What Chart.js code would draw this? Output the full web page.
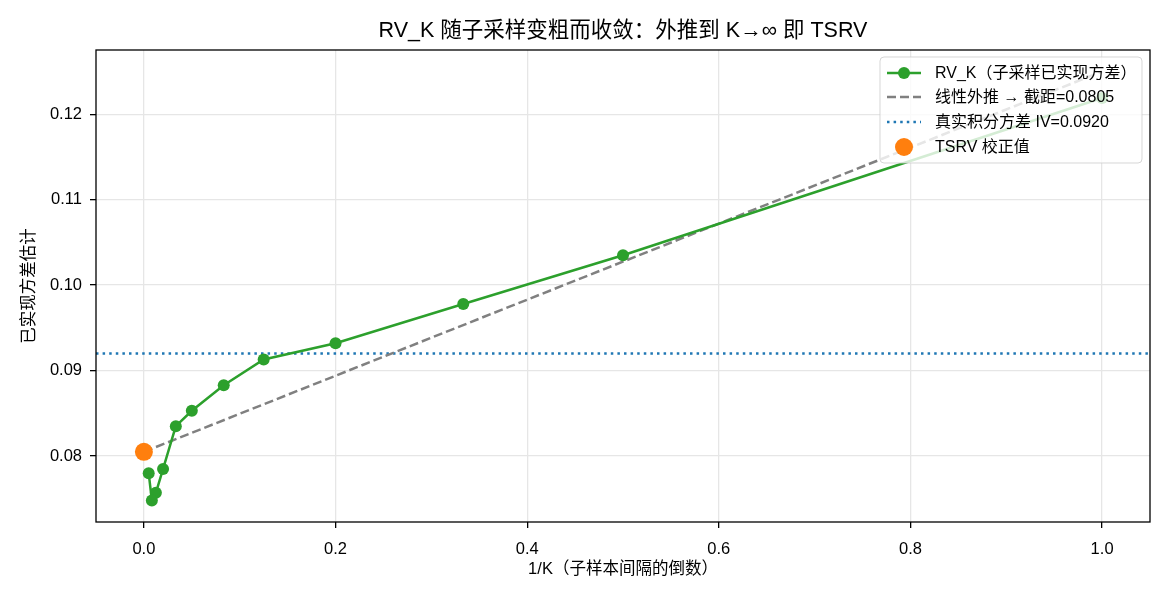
<!DOCTYPE html>
<html>
<head>
<meta charset="utf-8">
<script src="https://cdn.jsdelivr.net/npm/chart.js@4.4.1/dist/chart.umd.min.js"></script>
<style>
  body { margin: 0; background: #fff; }
  #wrap { width: 1170px; height: 598px; }
</style>
</head>
<body>
<div id="wrap"><canvas id="grafiek"></canvas></div>
<script>
// data
const invK = [1.0, 0.5, 0.3333, 0.2, 0.125, 0.0833, 0.05, 0.0333, 0.02, 0.0125, 0.0083, 0.005];
const rvK = [0.1219, 0.1035, 0.0978, 0.0932, 0.0913, 0.0883, 0.0853, 0.0835, 0.0785, 0.0757, 0.0748, 0.0780];
const fitX = [0, 1];
const fitY = [0.0805, 0.1250];
const ivValue = 0.0920;
const tsrvX = [0];
const tsrvY = [0.0805];

const xRange = [-0.05, 1.05];
const yRange = [0.07229, 0.12751];
const xTicks = [0.0, 0.2, 0.4, 0.6, 0.8, 1.0];
const yTicks = [0.08, 0.09, 0.10, 0.11, 0.12];

const titel = 'RV_K 随子采样变粗而收敛：外推到 K→∞ 即 TSRV';

const FONT = "'Liberation Sans', 'Noto Sans CJK SC', sans-serif";
const GROEN = '#2ca02c';
const ORANJE = '#ff7f0e';
const BLAUW = '#1f77b4';
const GRIJS = '#808080';

const legendItems = [
  { label: 'RV_K（子采样已实现方差）', type: 'linemarker', color: GROEN },
  { label: '线性外推 → 截距=0.0805', type: 'dashed', color: GRIJS },
  { label: '真实积分方差 IV=0.0920', type: 'dotted', color: BLAUW },
  { label: 'TSRV 校正值', type: 'marker', color: ORANJE }
];

// title, frame (spines) and legend box drawn on top
const kaderEnLegenda = {
  id: 'kaderEnLegenda',
  afterDraw(chart) {
    const ctx = chart.ctx;
    const a = chart.chartArea;
    ctx.save();

    ctx.fillStyle = '#000';
    ctx.font = '21.5px ' + FONT;
    ctx.textAlign = 'center';
    ctx.textBaseline = 'middle';
    ctx.fillText(titel, (a.left + a.right) / 2, 31);

    ctx.strokeStyle = '#000';
    ctx.lineWidth = 1.3;
    ctx.strokeRect(a.left, a.top, a.right - a.left, a.bottom - a.top);

    // legend
    const bx = 880, by = 57, bw = 262, bh = 106, r = 4;
    ctx.beginPath();
    ctx.roundRect(bx, by, bw, bh, r);
    ctx.fillStyle = 'rgba(255,255,255,0.8)';
    ctx.fill();
    ctx.strokeStyle = 'rgba(204,204,204,0.8)';
    ctx.lineWidth = 1;
    ctx.stroke();

    const rows = [73, 97, 122, 147];
    ctx.font = '16px ' + FONT;
    ctx.textBaseline = 'middle';
    ctx.textAlign = 'left';
    legendItems.forEach((it, i) => {
      const y = rows[i];
      const x0 = 887, x1 = 921, xm = 904;
      ctx.strokeStyle = it.color;
      ctx.fillStyle = it.color;
      ctx.lineWidth = 2.5;
      if (it.type !== 'marker') {
        ctx.beginPath();
        if (it.type === 'dashed') ctx.setLineDash([9, 4]);
        if (it.type === 'dotted') ctx.setLineDash([2.5, 4.1]);
        ctx.moveTo(x0, y);
        ctx.lineTo(x1, y);
        ctx.stroke();
        ctx.setLineDash([]);
      }
      if (it.type === 'linemarker') {
        ctx.beginPath();
        ctx.arc(xm, y, 6, 0, Math.PI * 2);
        ctx.fill();
      }
      if (it.type === 'marker') {
        ctx.beginPath();
        ctx.arc(xm, y, 9, 0, Math.PI * 2);
        ctx.fill();
      }
      ctx.fillStyle = '#000';
      ctx.fillText(it.label, 935, y + 1);
    });
    ctx.restore();
  }
};

const ctx = document.getElementById('grafiek').getContext('2d');

new Chart(ctx, {
  type: 'scatter',
  data: {
    datasets: [
      {
        label: 'TSRV 校正值',
        data: tsrvX.map((x, i) => ({ x: x, y: tsrvY[i] })),
        backgroundColor: ORANJE,
        borderWidth: 0,
        pointRadius: 9,
        pointHoverRadius: 9
      },
      {
        label: 'RV_K（子采样已实现方差）',
        data: invK.map((x, i) => ({ x: x, y: rvK[i] })),
        showLine: true,
        borderColor: GROEN,
        backgroundColor: GROEN,
        borderWidth: 2.5,
        pointRadius: 6,
        pointHoverRadius: 6,
        pointBorderWidth: 0
      },
      {
        label: '线性外推',
        data: fitX.map((x, i) => ({ x: x, y: fitY[i] })),
        showLine: true,
        borderColor: GRIJS,
        borderWidth: 2.5,
        borderDash: [9, 4],
        pointRadius: 0
      },
      {
        label: '真实积分方差',
        data: xRange.map(x => ({ x: x, y: ivValue })),
        showLine: true,
        borderColor: BLAUW,
        borderWidth: 2.5,
        borderDash: [2.5, 4.1],
        pointRadius: 0
      }
    ]
  },
  options: {
    responsive: true,
    maintainAspectRatio: false,
    animation: false,
    devicePixelRatio: 1,
    layout: { padding: { left: 0, right: 20, top: 50, bottom: 0 } },
    plugins: {
      legend: { display: false },
      tooltip: { enabled: false },
      title: { display: false }
    },
    scales: {
      x: {
        type: 'linear',
        min: xRange[0],
        max: xRange[1],
        afterBuildTicks: axis => { axis.ticks = xTicks.map(v => ({ value: v })); },
        afterFit: axis => { axis.height = 76; },
        ticks: {
          color: '#000',
          font: { family: FONT, size: 16.5 },
          padding: 12,
          maxRotation: 0,
          callback: v => Number(v).toFixed(1)
        },
        grid: { color: '#e6e6e6', lineWidth: 1.3, tickColor: '#000', tickLength: 6, tickWidth: 1.3 },
        border: { display: false },
        title: {
          display: true,
          text: '1/K（子样本间隔的倒数）',
          color: '#000',
          font: { family: FONT, size: 16.5 },
          padding: { top: 0, bottom: 19 }
        }
      },
      y: {
        type: 'linear',
        min: yRange[0],
        max: yRange[1],
        afterBuildTicks: axis => { axis.ticks = yTicks.map(v => ({ value: v })); },
        afterFit: axis => { axis.width = 96; },
        ticks: {
          color: '#000',
          font: { family: FONT, size: 16.5 },
          padding: 8,
          callback: v => Number(v).toFixed(2)
        },
        grid: { color: '#e6e6e6', lineWidth: 1.3, tickColor: '#000', tickLength: 6, tickWidth: 1.3 },
        border: { display: false },
        title: {
          display: true,
          text: '已实现方差估计',
          color: '#000',
          font: { family: FONT, size: 16.5 },
          padding: { top: 20, bottom: 0 }
        }
      }
    }
  },
  plugins: [kaderEnLegenda]
});
</script>
</body>
</html>
